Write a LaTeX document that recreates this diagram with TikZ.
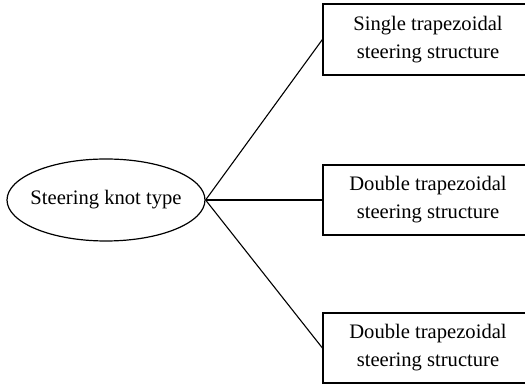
\documentclass[tikz,border=0pt]{standalone}
\usepackage{fontspec}
\setmainfont{Liberation Serif}
\usetikzlibrary{shapes.geometric}
\begin{document}
\begin{tikzpicture}[x=1pt,y=1pt,
  every node/.style={font=\fontsize{20.6}{28}\selectfont, text=black},
  oval/.style={ellipse, draw, line width=1.2pt, minimum width=198pt, minimum height=82pt, inner xsep=-6pt, inner ysep=0pt},
  leaf/.style={rectangle, draw, line width=1.2pt, minimum width=210pt, minimum height=70pt, inner sep=0pt, align=center},
  link/.style={line width=1.1pt}]
\useasboundingbox (0,0) rectangle (525,385);
\clip (0,0) rectangle (525,385);
\node[oval] (root) at (106,185) {Steering knot type};
\node[leaf, minimum height=71pt] (a) at (428,345.5) {Single trapezoidal\\steering structure};
\node[leaf] (b) at (428,185) {Double trapezoidal\\steering structure};
\node[leaf] (c) at (428,37) {Double trapezoidal\\steering structure};
\draw[link] (root.east) -- (a.west);
\draw[link] (root.east) -- (b.west);
\draw[link] (root.east) -- (c.west);
\end{tikzpicture}
\end{document}
